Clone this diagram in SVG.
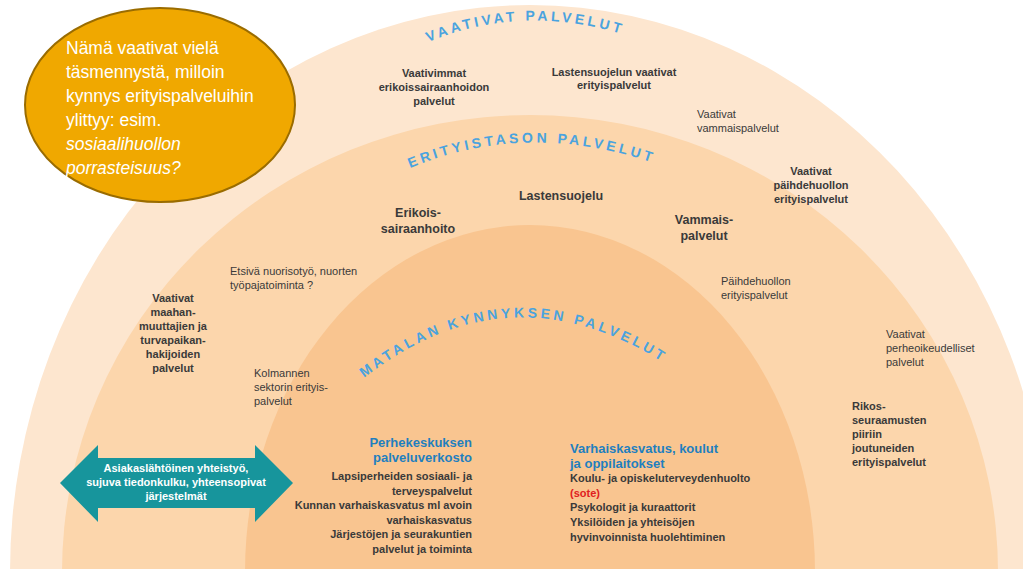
<svg xmlns="http://www.w3.org/2000/svg" width="1023" height="576" viewBox="0 0 1023 576">
<style>
text{font-family:"Liberation Sans",Arial,sans-serif;fill:#3a3a3a}
.t{font-size:11px}
.b{font-size:11px;font-weight:bold}
.bb{font-size:12.5px;font-weight:bold}
.h{font-size:13px;font-weight:bold;fill:#1f7fbf}
.arc{font-size:14px;font-weight:bold;fill:#4aa3df;letter-spacing:3.4px}
.w{fill:#fff;font-size:11px;font-weight:bold}
</style>
<defs>
<path id="p1" d="M 428 42 Q 530 0 640 40"/>
<path id="p2" d="M 410 168 Q 530 118 662 166"/>
<path id="p3" d="M 364 378 Q 515 260 678 372"/>
</defs>
<rect width="1023" height="576" fill="#fff"/>
<g id="rings">
<ellipse cx="530" cy="572" rx="520" ry="567" fill="#fde6cf"/>
<ellipse cx="530" cy="572" rx="468" ry="457" fill="#fcd6ac"/>
<ellipse cx="530" cy="572" rx="285" ry="347" fill="#f9c590"/>
<rect x="0" y="569" width="1023" height="7" fill="#fff"/>
</g>
<g id="headings">
<text class="arc"><textPath href="#p1">VAATIVAT PALVELUT</textPath></text>
<text class="arc"><textPath href="#p2">ERITYISTASON PALVELUT</textPath></text>
<text class="arc"><textPath href="#p3">MATALAN KYNNYKSEN PALVELUT</textPath></text>
</g>
<g id="note">
<ellipse cx="160" cy="105" rx="135" ry="97" fill="#f0a800" stroke="#9a6c00" stroke-width="2"/>
<text x="66" y="54" style="fill:#fff;font-size:17.5px">Nämä vaativat vielä</text>
<text x="66" y="78" style="fill:#fff;font-size:17.5px">täsmennystä, milloin</text>
<text x="66" y="102" style="fill:#fff;font-size:17.5px">kynnys erityispalveluihin</text>
<text x="66" y="126" style="fill:#fff;font-size:17.5px">ylittyy: esim.</text>
<text x="66" y="150" style="fill:#fff;font-size:17.5px;font-style:italic">sosiaalihuollon</text>
<text x="66" y="174" style="fill:#fff;font-size:17.5px;font-style:italic">porrasteisuus?</text>
</g>
<g id="outer-labels">
<text class="b" text-anchor="middle" x="434" y="77">Vaativimmat<tspan x="434" dy="14">erikoissairaanhoidon</tspan><tspan x="434" dy="14">palvelut</tspan></text>
<text class="b" text-anchor="middle" x="614" y="76">Lastensuojelun vaativat<tspan x="614" dy="13">erityispalvelut</tspan></text>
<text class="t" x="697" y="118">Vaativat<tspan x="697" dy="14">vammaispalvelut</tspan></text>
<text class="b" text-anchor="middle" x="811" y="175">Vaativat<tspan x="811" dy="14">päihdehuollon</tspan><tspan x="811" dy="14">erityispalvelut</tspan></text>
<text class="b" text-anchor="middle" x="173" y="302">Vaativat<tspan x="173" dy="14">maahan-</tspan><tspan x="173" dy="14">muuttajien ja</tspan><tspan x="173" dy="14">turvapaikan-</tspan><tspan x="173" dy="14">hakijoiden</tspan><tspan x="173" dy="14">palvelut</tspan></text>
<text class="t" x="886" y="338">Vaativat<tspan x="886" dy="14">perheoikeudelliset</tspan><tspan x="886" dy="14">palvelut</tspan></text>
<text class="b" x="852" y="410">Rikos-<tspan x="852" dy="14">seuraamusten</tspan><tspan x="852" dy="14">piiriin</tspan><tspan x="852" dy="14">joutuneiden</tspan><tspan x="852" dy="14">erityispalvelut</tspan></text>
</g>
<g id="middle-labels">
<text class="bb" text-anchor="middle" x="561" y="200">Lastensuojelu</text>
<text class="bb" text-anchor="middle" x="418" y="217">Erikois-<tspan x="418" dy="16">sairaanhoito</tspan></text>
<text class="bb" text-anchor="middle" x="704" y="224">Vammais-<tspan x="704" dy="16">palvelut</tspan></text>
<text class="t" x="230" y="275">Etsivä nuorisotyö, nuorten<tspan x="230" dy="14">työpajatoiminta ?</tspan></text>
<text class="t" x="721" y="285">Päihdehuollon<tspan x="721" dy="14">erityispalvelut</tspan></text>
<text class="t" x="254" y="377">Kolmannen<tspan x="254" dy="14">sektorin erityis-</tspan><tspan x="254" dy="14">palvelut</tspan></text>
</g>
<g id="inner-labels">
<text class="h" text-anchor="end" x="472" y="447">Perhekeskuksen<tspan x="472" dy="15">palveluverkosto</tspan></text>
<text class="b" text-anchor="end" x="472" y="480">Lapsiperheiden sosiaali- ja<tspan x="472" dy="15">terveyspalvelut</tspan><tspan x="472" dy="14">Kunnan varhaiskasvatus ml avoin</tspan><tspan x="472" dy="15">varhaiskasvatus</tspan><tspan x="472" dy="14">Järjestöjen ja seurakuntien</tspan><tspan x="472" dy="15">palvelut ja toiminta</tspan></text>
<text class="h" x="570" y="453">Varhaiskasvatus, koulut<tspan x="570" dy="15">ja oppilaitokset</tspan></text>
<text class="b" x="570" y="482">Koulu- ja opiskeluterveydenhuolto</text>
<text class="b" x="570" y="497" style="fill:#e02020">(sote)</text>
<text class="b" x="570" y="511">Psykologit ja kuraattorit<tspan x="570" dy="15">Yksilöiden ja yhteisöjen</tspan><tspan x="570" dy="15">hyvinvoinnista huolehtiminen</tspan></text>
</g>
<g id="arrow">
<polygon points="60,483 98,445 98,458 255,458 255,445 293,483 255,522 255,508 98,508 98,522" fill="#17959c"/>
<text class="w" text-anchor="middle" x="176" y="472">Asiakaslähtöinen yhteistyö,<tspan x="176" dy="14">sujuva tiedonkulku, yhteensopivat</tspan><tspan x="176" dy="14">järjestelmät</tspan></text>
</g>
<g id="connectors"/>
</svg>
